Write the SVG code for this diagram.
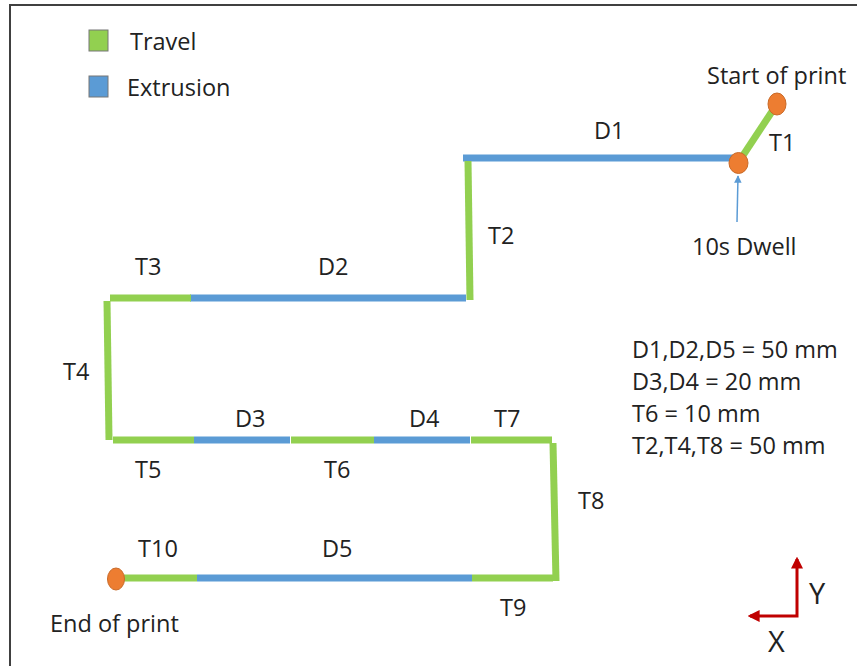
<svg xmlns="http://www.w3.org/2000/svg" width="857" height="666" viewBox="0 0 857 666">
<style>
text{font-family:"Open Sans","Noto Sans","Liberation Sans",sans-serif;font-size:23.5px;fill:#222}
.tr{stroke:#92D050;stroke-width:7;fill:none}
.ex{stroke:#5B9BD5;stroke-width:7;fill:none}
.dot{fill:#ED7D31;stroke:#C96A28;stroke-width:1}
.ax{stroke:#C00000;stroke-width:3;fill:none}
.axl{font-size:29px}
</style>
<defs>
<marker id="bluearrow" viewBox="0 0 10 10" refX="9" refY="5" markerWidth="5" markerHeight="5" orient="auto" markerUnits="strokeWidth">
<path d="M0,0L10,5L0,10z" fill="#5B9BD5"/>
</marker>
<marker id="redarrow" viewBox="0 0 10 10" refX="8" refY="5" markerWidth="4" markerHeight="4" orient="auto-start-reverse" markerUnits="strokeWidth">
<path d="M0,0L10,5L0,10z" fill="#C00000"/>
</marker>
</defs>
<rect x="0" y="0" width="857" height="666" fill="#fff"/>
<rect x="10" y="5" width="900" height="700" fill="none" stroke="#404040" stroke-width="2"/>

<g id="legend">
<rect x="89" y="30" width="19" height="21" fill="#92D050" stroke="#777" stroke-width="1"/>
<text x="130" y="50">Travel</text>
<rect x="89" y="76" width="19" height="21" fill="#5B9BD5" stroke="#777" stroke-width="1"/>
<text x="127" y="96">Extrusion</text>
</g>

<g id="connectors">
<line class="tr" x1="738" y1="163" x2="777" y2="104"/>
<line class="ex" x1="463" y1="158" x2="738" y2="158"/>
<line class="tr" x1="468" y1="161" x2="470" y2="300"/>
<line class="ex" x1="190" y1="298" x2="466" y2="298"/>
<line class="tr" x1="110" y1="298" x2="191" y2="298"/>
<line class="tr" x1="107" y1="301" x2="109" y2="440"/>
<line class="tr" x1="113" y1="440" x2="194" y2="440"/>
<line class="ex" x1="194" y1="440" x2="290" y2="440"/>
<line class="tr" x1="291" y1="440" x2="374" y2="440"/>
<line class="ex" x1="374" y1="440" x2="470" y2="440"/>
<line class="tr" x1="471" y1="440" x2="552" y2="440"/>
<line class="tr" x1="553" y1="443" x2="556" y2="581"/>
<line class="tr" x1="472" y1="578" x2="553" y2="578"/>
<line class="ex" x1="197" y1="578" x2="472" y2="578"/>
<line class="tr" x1="124" y1="578" x2="197" y2="578"/>
<line x1="737" y1="222" x2="738" y2="176" stroke="#5B9BD5" stroke-width="1.5" marker-end="url(#bluearrow)"/>
</g>

<g id="start"><ellipse class="dot" cx="777" cy="104" rx="9" ry="11"/></g>
<g id="dwell"><ellipse class="dot" cx="738.5" cy="163" rx="9.5" ry="10.5"/></g>
<g id="end"><ellipse class="dot" cx="116" cy="579" rx="8.5" ry="11"/></g>

<g id="labels">
<text x="707" y="84">Start of print</text>
<text x="769" y="151">T1</text>
<text x="594" y="139">D1</text>
<text x="692" y="255">10s Dwell</text>
<text x="488" y="244">T2</text>
<text x="135" y="275">T3</text>
<text x="318" y="275">D2</text>
<text x="63" y="380">T4</text>
<text x="235" y="427">D3</text>
<text x="409" y="427">D4</text>
<text x="494" y="427">T7</text>
<text x="135" y="478">T5</text>
<text x="324" y="478">T6</text>
<text x="578" y="509">T8</text>
<text x="138" y="557">T10</text>
<text x="322" y="557">D5</text>
<text x="50" y="632">End of print</text>
<text x="500" y="616">T9</text>
</g>

<g id="notes">
<text x="632" y="358">D1,D2,D5 = 50 mm</text>
<text x="632" y="390">D3,D4 = 20 mm</text>
<text x="632" y="422">T6 = 10 mm</text>
<text x="632" y="454">T2,T4,T8 = 50 mm</text>
</g>

<g id="axes">
<polyline class="ax" points="750,616 797,616 797,559" marker-start="url(#redarrow)" marker-end="url(#redarrow)"/>
<text class="axl" x="809" y="604">Y</text>
<text class="axl" x="768" y="652">X</text>
</g>
</svg>
